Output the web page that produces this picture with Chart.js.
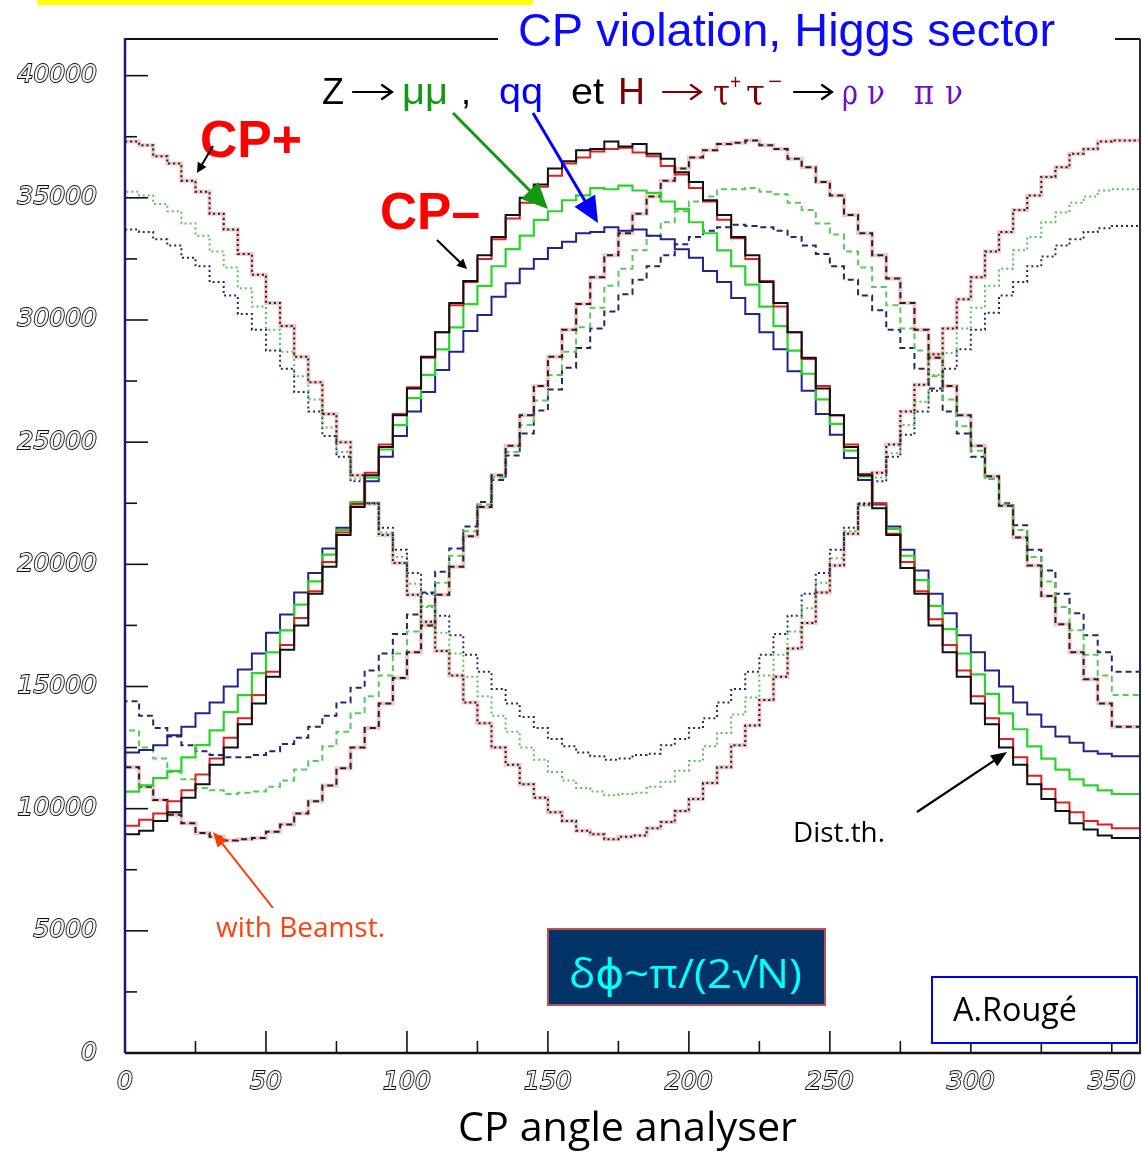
<!DOCTYPE html>
<html><head><meta charset="utf-8">
<script src="https://cdn.jsdelivr.net/npm/chart.js@4.4.1/dist/chart.umd.min.js"></script>
<style>html,body{margin:0;padding:0;background:#fff;}canvas{display:block;}</style>
</head><body>
<canvas id="c" width="1142" height="1153"></canvas>
<script>
// ---- data (bin start angles, 5 degree bins) ----
const binStart = [0,5,10,15,20,25,30,35,40,45,50,55,60,65,70,75,80,85,90,95,100,105,110,115,120,125,130,135,140,145,150,155,160,165,170,175,180,185,190,195,200,205,210,215,220,225,230,235,240,245,250,255,260,265,270,275,280,285,290,295,300,305,310,315,320,325,330,335,340,345,350,355];
const xTickLabels = [0,50,100,150,200,250,300,350];
const yTickLabels = [0,5000,10000,15000,20000,25000,30000,35000,40000];

// CP- (solid)
const cpMinusBlack = [8800,8950,9100,9500,9850,10450,11000,11800,12500,13450,14300,15400,16500,17500,18800,19900,21200,22350,
 23650,24800,26100,27200,28500,29500,30700,31600,32650,33400,34300,35000,35550,36200,36500,36950,37000,37300,
 37100,37200,36800,36600,36050,35650,34900,34300,33400,32650,31550,30700,29500,28450,27200,26100,24800,23650,
 22300,21200,19850,18800,17500,16400,15400,14300,13450,12500,11800,11000,10400,9900,9400,9150,8900,8800];
const cpMinusRed = [9250,9300,9550,9800,10300,10750,11400,12050,12900,13700,14650,15600,16700,17800,18900,20100,21300,22450,
 23750,24900,26150,27250,28450,29500,30600,31550,32500,33300,34150,34800,35450,35900,36400,36650,36900,37000,
 37050,36850,36700,36300,35950,35400,34850,34100,33350,32500,31600,30550,29500,28400,27300,26100,24900,23700,
 22500,21250,20100,18900,17750,16700,15650,14600,13700,12850,12100,11350,10800,10250,9850,9500,9350,9200];
const cpMinusGreen = [10650,10700,10950,11250,11550,12100,12600,13200,13950,14650,15550,16400,17300,18350,19300,20400,21400,22550,
 23550,24700,25700,26800,27750,28800,29700,30650,31400,32200,32900,33450,34100,34450,34900,35100,35400,35350,
 35500,35300,35200,34850,34550,34000,33550,32850,32200,31450,30550,29750,28750,27800,26750,25750,24650,23600,
 22500,21450,20350,19350,18300,17350,16350,15500,14700,13900,13250,12550,12050,11600,11200,10950,10750,10600];
const cpMinusBlue = [12150,12300,12400,12600,13000,13350,13900,14350,15000,15700,16350,17200,17950,18850,19650,20650,21500,22500,
 23400,24400,25250,26250,27050,27950,28700,29550,30200,30950,31500,32100,32500,32950,33200,33550,33600,33800,
 33650,33700,33450,33300,32900,32550,32000,31550,30900,30250,29500,28800,27900,27100,26150,25300,24350,23450,
 22450,21550,20600,19750,18800,18000,17100,16400,15650,15000,14350,13850,13350,12950,12700,12350,12250,12150];

// CP+ (dotted)
const cpPlusBlack = [37500,37300,37150,36700,36400,35700,35250,34350,33700,32700,31850,30700,29750,28500,27450,26150,25000,23650,
 22500,21200,20050,18750,17650,16450,15450,14350,13500,12500,11800,11000,10450,9850,9500,9100,8950,8750,
 8850,8900,9200,9450,9900,10400,11050,11700,12600,13400,14450,15400,16550,17600,18850,19950,21250,22450,
 23750,24900,26250,27350,28600,29650,30850,31750,32800,33600,34500,35100,35850,36250,36800,37000,37300,37350];
const cpPlusGreen = [35400,35250,35100,34750,34450,33950,33450,32800,32150,31300,30550,29600,28700,27700,26750,25600,24600,23500,
 22450,21300,20300,19200,18250,17200,16350,15400,14600,13800,13150,12500,12000,11500,11150,10850,10700,10550,
 10600,10650,10900,11100,11550,11950,12550,13100,13850,14550,15450,16300,17250,18200,19250,20250,21350,22400,
 23550,24550,25700,26650,27750,28650,29650,30500,31400,32100,32850,33400,34000,34400,34800,35050,35300,35350];
const cpPlusBlue = [33900,33700,33600,33300,33050,32550,32200,31550,31000,30250,29600,28750,28000,27050,26250,25250,24400,23400,
 22500,21500,20600,19650,18800,17900,17100,16300,15600,14900,14300,13750,13300,12850,12550,12300,12150,12000,
 12050,12200,12250,12600,12850,13300,13700,14350,14900,15600,16300,17150,17900,18800,19650,20600,21500,22500,
 23400,24400,25300,26250,27100,28000,28800,29600,30300,31000,31550,32200,32600,33050,33300,33600,33750,33850];

// with beamstrahlung (dashed)
const beamBlack = [12500,11700,10900,10350,9750,9400,9000,8850,8700,
 8750,8800,9050,9350,9800,10300,10950,11650,12500,13300,14300,15350,16400,17500,18750,19900,21150,22350,
 23650,24850,26100,27300,28500,29600,30650,31750,32650,33550,34350,35050,35700,36200,36650,36950,37200,37250,
 37350,37150,37000,36600,36250,35650,35100,34300,33550,32650,31700,30700,29600,28450,27300,26100,24850,23600,
 22400,21100,19950,18700,17550,16400,15300,14300,13350];
const beamGreen = [13850,13200,12500,12050,11500,11200,10850,10750,10600,
 10650,10700,10900,11150,11600,11950,12550,13150,13900,14600,15450,16350,17250,18300,19250,20350,21350,22450,
 23550,24600,25700,26700,27750,28700,29700,30500,31400,32100,32850,33450,34000,34450,34850,35050,35350,35350,
 35400,35250,35150,34800,34500,33950,33500,32800,32150,31350,30600,29650,28750,27700,26750,25650,24650,23500,
 22450,21400,20300,19300,18250,17300,16300,15450,14650];
const beamBlue = [14950,14400,13800,13300,12950,12600,12350,12200,12100,
 12100,12200,12350,12650,12900,13350,13800,14350,14950,15650,16350,17150,17950,18850,19700,20650,21550,22550,
 23450,24450,25350,26300,27150,28050,28850,29650,30350,31050,31650,32200,32650,33100,33400,33650,33800,33900,
 33850,33800,33650,33400,33050,32700,32200,31650,31000,30400,29600,28850,28000,27200,26250,25350,24400,23500,
 22500,21600,20600,19750,18800,18000,17100,16400,15600];

// ---- helpers ----
function hist(vals){
  const pts = vals.map((v,i)=>({x:binStart[i], y:v}));
  pts.push({x:360, y:vals[vals.length-1]});
  return pts;
}
function ds(label, vals, color, width, dash){
  return {label, data:hist(vals), borderColor:color, borderWidth:width, borderDash:dash||[],
    stepped:'after', pointRadius:0, fill:false, tension:0, borderCapStyle:'butt'};
}
const SANS = "'Liberation Sans', Arial, 'DejaVu Sans', sans-serif";
const CAL = "Lato, 'Open Sans', 'DejaVu Sans', sans-serif";
const OPEN = "'Open Sans', 'DejaVu Sans', sans-serif";

function txt(ctx, s, x, y, size, family, color, weight, targetW){
  ctx.save();
  ctx.font = (weight||'normal') + ' ' + size + 'px ' + family;
  ctx.fillStyle = color; ctx.textBaseline = 'alphabetic'; ctx.textAlign = 'left';
  if (targetW){
    const m = ctx.measureText(s).width;
    ctx.translate(x, y); ctx.scale(targetW/m, 1); ctx.fillText(s, 0, 0);
  } else ctx.fillText(s, x, y);
  ctx.restore();
}
function arrow(ctx, x1, y1, x2, y2, color, w, headLen, headW){
  const a = Math.atan2(y2-y1, x2-x1);
  const bx = x2 - headLen*Math.cos(a), by = y2 - headLen*Math.sin(a);
  ctx.save(); ctx.strokeStyle = color; ctx.fillStyle = color; ctx.lineWidth = w;
  ctx.beginPath(); ctx.moveTo(x1, y1); ctx.lineTo(bx + Math.cos(a), by + Math.sin(a)); ctx.stroke();
  ctx.beginPath(); ctx.moveTo(x2, y2);
  ctx.lineTo(bx + headW/2*Math.sin(a), by - headW/2*Math.cos(a));
  ctx.lineTo(bx - headW/2*Math.sin(a), by + headW/2*Math.cos(a));
  ctx.closePath(); ctx.fill(); ctx.restore();
}
// text arrow glyph drawn as thin line with open head (like the slide's "→")
function glyphArrow(ctx, x1, x2, y, color){
  ctx.save(); ctx.strokeStyle = color; ctx.lineWidth = 2.2; ctx.lineCap = 'round';
  ctx.beginPath(); ctx.moveTo(x1, y); ctx.lineTo(x2, y);
  ctx.moveTo(x2 - 10, y - 7); ctx.lineTo(x2, y); ctx.lineTo(x2 - 10, y + 7);
  ctx.stroke(); ctx.restore();
}

const framePlugin = {
  id: 'frame',
  afterDatasetsDraw(chart){
    const {ctx, chartArea:a, scales:{x, y}} = chart;
    ctx.save();
    ctx.strokeStyle = '#111'; ctx.lineWidth = 1.6;
    yTickLabels.forEach((v, i) => {
      const py = y.getPixelForValue(v);
      ctx.beginPath(); ctx.moveTo(a.left, py); ctx.lineTo(a.left + 23, py); ctx.stroke();
      if (i < yTickLabels.length - 1){
        const pm = y.getPixelForValue((v + yTickLabels[i+1]) / 2);
        ctx.beginPath(); ctx.moveTo(a.left, pm); ctx.lineTo(a.left + 12, pm); ctx.stroke();
      }
    });
    xTickLabels.forEach((v, i) => {
      const px = x.getPixelForValue(v);
      ctx.beginPath(); ctx.moveTo(px, a.bottom); ctx.lineTo(px, a.bottom - 22); ctx.stroke();
      const next = i < xTickLabels.length - 1 ? xTickLabels[i+1] : v + 50;
      const mv = (v + next) / 2;
      if (mv < 360){
        const pm = x.getPixelForValue(mv);
        ctx.beginPath(); ctx.moveTo(pm, a.bottom); ctx.lineTo(pm, a.bottom - 12); ctx.stroke();
      }
    });
    ctx.lineWidth = 2;
    ctx.strokeStyle = '#111';
    ctx.beginPath(); ctx.moveTo(a.left, a.top); ctx.lineTo(a.right, a.top); ctx.stroke();
    ctx.strokeStyle = '#2a2a55';
    ctx.beginPath(); ctx.moveTo(a.right, a.top); ctx.lineTo(a.right, a.bottom); ctx.stroke();
    ctx.lineWidth = 2.5;
    ctx.strokeStyle = '#1c1c6e';
    ctx.beginPath(); ctx.moveTo(a.left, a.top - 1); ctx.lineTo(a.left, a.bottom); ctx.stroke();
    ctx.strokeStyle = '#111';
    ctx.beginPath(); ctx.moveTo(a.left, a.bottom); ctx.lineTo(a.right + 1, a.bottom); ctx.stroke();
    ctx.restore();
  },
  afterDraw(chart){
    const ctx = chart.ctx;
    ctx.fillStyle = '#ffff00'; ctx.fillRect(37, 0, 496, 5);
    ctx.fillStyle = '#ffffff'; ctx.fillRect(498, 8, 617, 50);
    txt(ctx, 'CP violation, Higgs sector', 518, 46, 47, SANS, '#0a0aff', 'normal', 537);
    const B = 104, F = 36;
    txt(ctx, 'Z', 322, B, F, SANS, '#000');
    glyphArrow(ctx, 353, 392, B - 12, '#000');
    txt(ctx, '\u03bc\u03bc', 402, B, F, SANS, '#119a11', 'normal', 46);
    txt(ctx, ',', 461, B, F, SANS, '#000');
    txt(ctx, 'qq', 499, B, F, SANS, '#0000ff', 'normal', 44);
    txt(ctx, 'et', 571, B, F, SANS, '#000', 'normal', 33);
    txt(ctx, 'H', 618, B, F, SANS, '#7f0000', 'normal', 27);
    glyphArrow(ctx, 663, 701, B - 12, '#7f0000');
    txt(ctx, '\u03c4', 713, B, F, "'DejaVu Serif', serif", '#7f0000', 'normal', 17);
    txt(ctx, '+', 730, B - 15, 20, SANS, '#7f0000', 'normal', 11);
    txt(ctx, '\u03c4', 746, B, F, "'DejaVu Serif', serif", '#7f0000', 'normal', 19);
    txt(ctx, '\u2212', 768, B - 16, 20, SANS, '#7f0000', 'normal', 14);
    glyphArrow(ctx, 794, 832, B - 12, '#000');
    txt(ctx, '\u03c1', 842, B, F, "'DejaVu Serif', serif", '#7010c0', 'normal', 16);
    txt(ctx, '\u03bd', 867, B, F, "'DejaVu Serif', serif", '#7010c0', 'normal', 18);
    txt(ctx, '\u03c0', 914, B, F, "'DejaVu Serif', serif", '#7010c0', 'normal', 20);
    txt(ctx, '\u03bd', 945, B, F, "'DejaVu Serif', serif", '#7010c0', 'normal', 18);
    txt(ctx, 'CP+', 200, 157, 52, SANS, '#ff0000', 'bold', 102);
    txt(ctx, 'CP\u2013', 380, 229, 52, SANS, '#ff0000', 'bold', 100);
    arrow(ctx, 213, 146, 197, 173, '#000', 2, 10, 10);
    arrow(ctx, 437, 240, 467, 269, '#000', 2, 10, 10);
    arrow(ctx, 453, 113, 548, 209, '#119a11', 3, 26, 24);
    arrow(ctx, 533, 113, 598, 223, '#0000ff', 3, 26, 24);
    arrow(ctx, 917, 812, 1007, 752, '#000', 2.2, 16, 13);
    arrow(ctx, 273, 908, 213, 832, '#ff3a00', 2, 15, 12);
    txt(ctx, 'Dist.th.', 793, 842, 27, OPEN, '#000', 'normal', 92);
    txt(ctx, 'with Beamst.', 216, 937, 27, OPEN, '#ff4010', 'normal', 169);
    ctx.fillStyle = '#003366'; ctx.fillRect(548, 929, 277, 76);
    ctx.strokeStyle = '#c0504d'; ctx.lineWidth = 2; ctx.strokeRect(548, 929, 277, 76);
    txt(ctx, '\u03b4\u03d5~\u03c0/(2\u221aN)', 569, 988, 40, OPEN, '#00ffff', 'normal', 233);
    ctx.fillStyle = '#ffffff'; ctx.fillRect(932, 977, 205, 66);
    ctx.strokeStyle = '#0000ff'; ctx.lineWidth = 2; ctx.strokeRect(932, 977, 205, 66);
    txt(ctx, 'A.Roug\u00e9', 953, 1021, 32, OPEN, '#000', 'normal', 124);
    txt(ctx, 'CP angle analyser', 458, 1141, 41, OPEN, '#000', 'normal', 339);
  }
};

const tickFont = {family:"'DejaVu Sans', sans-serif", size:25, style:'italic'};

new Chart(document.getElementById('c'), {
  type: 'line',
  data: {
    datasets: [
      ds('CP- theory', cpMinusBlack, '#111111', 2),
      ds('CP- rho nu pi nu', cpMinusRed, '#e02020', 2),
      ds('CP- Z mumu', cpMinusGreen, '#2bd42b', 2.2),
      ds('CP- Z qq', cpMinusBlue, '#23238c', 2),
      ds('CP+ theory', cpPlusBlack, '#222222', 2, [2,3]),
      ds('CP+ Z mumu', cpPlusGreen, '#4fc84f', 2, [2,3]),
      ds('CP+ Z qq', cpPlusBlue, '#26266e', 2, [2,3]),
      ds('Beamst. theory', beamBlack, '#222222', 2, [6,4]),
      ds('Beamst. Z mumu', beamGreen, '#55cc55', 2, [6,4]),
      ds('Beamst. Z qq', beamBlue, '#26266e', 2, [6,4]),
      ds('CP+ red', cpPlusBlack, 'rgba(235,90,90,0.35)', 4),
      ds('Beamst. red', beamBlack, 'rgba(235,90,90,0.35)', 4)
    ]
  },
  options: {
    responsive: false, animation: false, events: [],
    layout: {padding: {top: 39, right: 2, left: 0, bottom: 0}},
    plugins: {legend: {display: false}, tooltip: {enabled: false}, title: {display: false}},
    scales: {
      x: {
        type: 'linear', min: 0, max: 360,
        grid: {display: false, drawTicks: false}, border: {display: false},
        afterBuildTicks: s => { s.ticks = xTickLabels.map(v => ({value: v})); },
        afterFit: s => { s.height = 100; s.paddingLeft = 0; s.paddingRight = 0; s.paddingTop = 0; s.paddingBottom = 0; },
        ticks: {font: tickFont, color: '#f2f2f2', textStrokeColor: '#111', textStrokeWidth: 1.8, padding: 14, maxRotation: 0, autoSkip: false}
      },
      y: {
        type: 'linear', min: 0, max: 41500,
        grid: {display: false, drawTicks: false}, border: {display: false},
        afterBuildTicks: s => { s.ticks = yTickLabels.map(v => ({value: v})); },
        afterFit: s => { s.width = 125; s.paddingLeft = 0; s.paddingRight = 0; s.paddingTop = 0; s.paddingBottom = 0; },
        ticks: {font: tickFont, color: '#f2f2f2', textStrokeColor: '#111', textStrokeWidth: 1.8, padding: 28, callback: v => String(v)}
      }
    }
  },
  plugins: [framePlugin]
});
</script>
</body></html>
